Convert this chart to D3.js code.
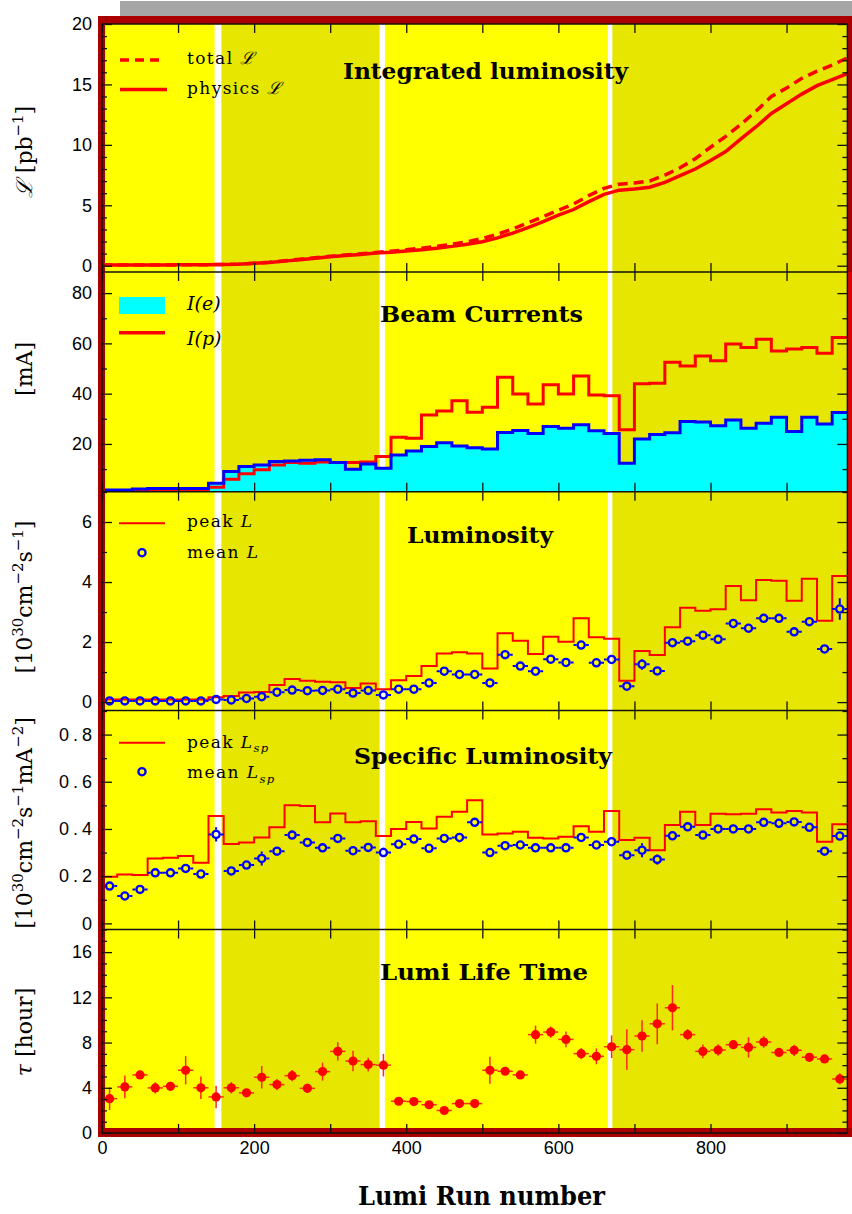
<!DOCTYPE html>
<html>
<head>
<meta charset="utf-8">
<script src="https://cdn.jsdelivr.net/npm/d3@7"></script>
<style>
  body { margin: 0; background: #fff; }
  svg { display: block; }
</style>
</head>
<body>
<div id="lumi_plot"></div>
<script>
// ---------------- data ----------------
// run bins of 20, edges and centres
var binEdges = [0,20,40,60,80,100,120,140,160,180,200,220,240,260,280,300,320,340,360,380,
                400,420,440,460,480,500,520,540,560,580,600,620,640,660,680,700,720,740,760,780,
                800,820,840,860,880,900,920,940,960,980];
var runCentres = [10,30,50,70,90,110,130,150,170,190,210,230,250,270,290,310,330,350,370,390,
                  410,430,450,470,490,510,530,550,570,590,610,630,650,670,690,710,730,750,770,790,
                  810,830,850,870,890,910,930,950,970];

// running periods (background bands)
var bandFrom  = [0, 157, 372, 671];
var bandTo    = [148, 365, 665, 980];
var bandShade = [0, 1, 0, 1];

// integrated luminosity [pb^-1] at the bin edges
var physicsInt = [0.05,0.05,0.05,0.05,0.06,0.07,0.08,0.09,0.1,0.13,
                  0.2,0.27,0.38,0.5,0.62,0.74,0.84,0.93,1.05,1.12,
                  1.22,1.32,1.45,1.6,1.78,1.98,2.3,2.7,3.15,3.65,
                  4.18,4.65,5.3,5.9,6.25,6.35,6.5,6.9,7.45,8.0,
                  8.7,9.45,10.5,11.5,12.6,13.4,14.2,14.9,15.4,15.9];
var totalInt   = [0.05,0.05,0.05,0.05,0.06,0.07,0.08,0.09,0.1,0.14,
                  0.21,0.29,0.41,0.54,0.66,0.78,0.89,0.99,1.1,1.2,
                  1.32,1.45,1.6,1.78,1.98,2.26,2.6,3.05,3.55,4.05,
                  4.59,5.1,5.8,6.4,6.75,6.85,7.0,7.5,8.1,8.85,
                  9.8,10.7,11.7,12.8,14.0,14.7,15.5,16.1,16.6,17.2];

// beam currents [mA]
var currentE = [1.7,1.7,2.1,2.3,2.3,2.3,2.3,4.4,9.0,11.0,11.6,13.0,13.2,13.5,13.7,12.6,9.9,12.0,10.3,15.6,
                17.2,19.0,20.5,19.2,18.5,18.0,24.6,25.3,24.2,26.9,26.2,27.6,25.2,24.2,12.3,22.0,23.8,24.5,28.9,28.7,
                27.2,29.5,26.2,28.2,30.6,24.9,30.6,27.9,32.5];
var currentP = [1.3,1.3,1.3,1.3,1.3,1.3,1.3,2.8,6.0,8.1,9.7,11.6,12.6,12.3,12.8,12.6,12.6,12.8,15.0,22.7,
                22.3,31.5,33.1,37.2,32.6,34.6,46.5,39.9,35.9,43.5,39.9,47.0,39.5,39.2,25.6,43.9,44.1,52.5,51.0,55.0,
                53.1,59.8,58.4,61.6,57.0,57.8,58.4,56.1,62.3];

// luminosity [10^30 cm^-2 s^-1]
var peakL  = [0.09,0.09,0.09,0.09,0.09,0.09,0.09,0.16,0.2,0.32,0.34,0.57,0.77,0.71,0.68,0.66,0.47,0.62,0.43,0.73,
              0.87,1.2,1.62,1.66,1.62,1.12,2.29,2.04,1.6,2.18,2.01,2.79,2.16,2.11,0.71,1.7,1.57,2.49,3.14,3.04,
              3.09,3.87,3.39,4.07,4.04,3.38,4.11,2.71,4.2];
var meanL  = [0.04,0.04,0.04,0.04,0.04,0.04,0.04,0.09,0.07,0.12,0.18,0.33,0.4,0.38,0.39,0.43,0.3,0.39,0.24,0.43,
              0.43,0.64,1.03,0.92,0.92,0.64,1.58,1.2,1.03,1.43,1.32,1.9,1.31,1.42,0.53,1.26,1.04,1.98,2.03,2.23,
              2.09,2.62,2.46,2.79,2.79,2.34,2.68,1.77,3.1];
var meanLErr = [0.02,0.02,0.02,0.02,0.02,0.02,0.02,0.03,0.03,0.03,0.04,0.04,0.04,0.04,0.04,0.05,0.04,0.05,0.04,0.04,
                0.04,0.05,0.05,0.05,0.05,0.05,0.08,0.06,0.06,0.06,0.06,0.08,0.06,0.06,0.1,0.18,0.06,0.06,0.07,0.07,
                0.07,0.09,0.08,0.07,0.07,0.08,0.08,0.08,0.36];

// specific luminosity [10^30 cm^-2 s^-1 mA^-2]
var peakLsp = [0.197,0.207,0.205,0.275,0.278,0.285,0.257,0.455,0.336,0.343,0.364,0.407,0.501,0.497,0.428,0.466,0.428,0.433,0.37,0.4,
               0.43,0.402,0.452,0.473,0.522,0.377,0.381,0.388,0.363,0.36,0.367,0.412,0.388,0.476,0.353,0.363,0.31,0.417,0.473,0.417,
               0.464,0.462,0.464,0.484,0.47,0.476,0.47,0.346,0.42];
var meanLsp = [0.158,0.116,0.144,0.214,0.214,0.233,0.209,0.377,0.222,0.247,0.275,0.306,0.374,0.343,0.32,0.36,0.308,0.322,0.3,0.335,
               0.357,0.318,0.36,0.364,0.428,0.3,0.329,0.332,0.32,0.32,0.32,0.364,0.332,0.346,0.289,0.31,0.271,0.371,0.409,0.374,
               0.4,0.4,0.4,0.428,0.424,0.43,0.407,0.306,0.37];
var meanLspErr = [0.012,0.01,0.01,0.015,0.012,0.012,0.01,0.03,0.01,0.012,0.03,0.012,0.015,0.012,0.01,0.015,0.01,0.012,0.02,0.012,
                  0.012,0.01,0.015,0.02,0.015,0.01,0.012,0.012,0.01,0.01,0.01,0.012,0.01,0.012,0.01,0.03,0.022,0.015,0.015,0.012,
                  0.012,0.012,0.012,0.012,0.012,0.015,0.012,0.012,0.015];

// lumi life time [hour]
var lifeTime = [3.04,4.08,5.14,3.99,4.13,5.55,4.0,3.19,4.0,3.55,4.93,4.28,5.07,3.95,5.43,7.22,6.37,6.05,6.0,2.81,
                2.78,2.5,1.99,2.6,2.6,5.55,5.46,5.14,8.7,8.93,8.28,7.02,6.78,7.63,7.37,8.58,9.66,11.08,8.7,7.22,
                7.34,7.81,7.57,8.05,7.13,7.31,6.69,6.55,4.78];
var lifeTimeErr = [1.0,1.0,0.3,0.5,0.4,1.25,1.0,1.0,0.5,0.3,1.0,0.5,0.5,0.4,0.8,0.8,0.9,0.6,1.0,0.2,
                   0.2,0.2,0.2,0.2,0.2,1.2,0.3,0.2,0.8,0.5,0.7,0.5,0.7,1.0,1.8,1.4,1.8,2.0,0.5,0.6,
                   0.5,0.3,0.9,0.5,0.3,0.5,0.25,0.2,0.5];

var xTickRuns  = [0,100,200,300,400,500,600,700,800,900];
var xLabelRuns = [0,200,400,600,800];
// ---------------------------------------------------------------

var W = 852, H = 1214;
var halfBin = 10;
var serif = "'DejaVu Serif', 'Liberation Serif', serif";
var sans = "'Liberation Sans', Arial, Helvetica, sans-serif";

var svg = d3.select('#lumi_plot').append('svg')
    .attr('width', W)
    .attr('height', H);

var x = d3.scaleLinear().domain([0, 980]).range([102, 847.4]);

var panels = [
  {id: 'p_int',  top: 24,    bottom: 272,   lo: -0.52,  hi: 20,    major: 5,   minor: 1},
  {id: 'p_cur',  top: 272,   bottom: 491.7, lo: 1,      hi: 88.4,  major: 20,  minor: 10},
  {id: 'p_lum',  top: 491.7, bottom: 710.5, lo: -0.28,  hi: 7.01,  major: 2,   minor: 1},
  {id: 'p_spec', top: 710.5, bottom: 929.5, lo: -0.026, hi: 0.902, major: 0.2, minor: 0.1},
  {id: 'p_life', top: 929.5, bottom: 1133,  lo: 0,      hi: 18,    major: 4,   minor: 1}
];
panels.forEach(function(p){
  p.y = d3.scaleLinear().domain([p.lo, p.hi]).range([p.bottom, p.top]);
});

function stepsOf(v){
  var s = [];
  for (var k = 0; k < v.length; k++) s.push([binEdges[k], v[k]]);
  s.push([binEdges[v.length], v[v.length - 1]]);
  return s;
}
function tickList(p, step){
  var out = [];
  for (var v = Math.ceil(p.lo / step - 1e-6) * step; v <= p.hi + 1e-6; v += step) out.push(+v.toFixed(3));
  return out;
}

//gray strip at the top
svg.append('rect')
   .attr('x', 120).attr('y', 1).attr('width', W - 120).attr('height', 15)
   .attr('fill', '#a6a6a6');

//background bands
var bands = svg.append('g').attr('class', 'bands');
bandFrom.forEach(function(b, k){
  bands.append('rect')
       .attr('x', x(b))
       .attr('y', 24)
       .attr('width', x(bandTo[k]) - x(b))
       .attr('height', 1133 - 24)
       .attr('fill', bandShade[k] ? '#e6e600' : '#ffff00');
});

//clip paths
var defs = svg.append('defs');
panels.forEach(function(p){
  defs.append('clipPath').attr('id', 'clip_' + p.id)
      .append('rect')
      .attr('x', x(0)).attr('y', p.top)
      .attr('width', x(980) - x(0)).attr('height', p.bottom - p.top);
});

function panelGroup(k){
  return svg.append('g').attr('clip-path', 'url(#clip_' + panels[k].id + ')');
}

// error bars that stop at the marker edge
function errorBars(g, p, vals, errs, r, colour, w){
  vals.forEach(function(v, k){
    var cx = x(runCentres[k]), cy = p.y(v);
    var xl = x(runCentres[k] - halfBin), xr = x(runCentres[k] + halfBin);
    var yt = p.y(v + errs[k]), yb = p.y(v - errs[k]);
    var segs = [];
    if (cx - r > xl) segs.push([xl, cy, cx - r, cy]);
    if (xr > cx + r) segs.push([cx + r, cy, xr, cy]);
    if (cy - r > yt) segs.push([cx, yt, cx, cy - r]);
    if (yb > cy + r) segs.push([cx, cy + r, cx, yb]);
    segs.forEach(function(s){
      g.append('line')
       .attr('x1', s[0]).attr('y1', s[1]).attr('x2', s[2]).attr('y2', s[3])
       .attr('stroke', colour).attr('stroke-width', w);
    });
  });
}

//panel 1 : integrated luminosity
var p1 = panels[0], g1 = panelGroup(0);
var intLine = d3.line()
    .x(function(d, k){ return x(binEdges[k]); })
    .y(function(d){ return p1.y(d); });
g1.append('path').attr('d', intLine(totalInt))
  .attr('fill', 'none').attr('stroke', '#ff0000').attr('stroke-width', 3.5)
  .attr('stroke-dasharray', '10,6');
g1.append('path').attr('d', intLine(physicsInt))
  .attr('fill', 'none').attr('stroke', '#ff0000').attr('stroke-width', 3.5);

//panel 2 : beam currents
var p2 = panels[1], g2 = panelGroup(1);
var curArea = d3.area()
    .x(function(d){ return x(d[0]); })
    .y0(p2.bottom + 2)
    .y1(function(d){ return p2.y(d[1]); })
    .curve(d3.curveStepAfter);
var stepLine2 = d3.line()
    .x(function(d){ return x(d[0]); })
    .y(function(d){ return p2.y(d[1]); })
    .curve(d3.curveStepAfter);
g2.append('path').attr('d', curArea(stepsOf(currentE))).attr('fill', '#00ffff');
g2.append('path').attr('d', stepLine2(stepsOf(currentP)))
  .attr('fill', 'none').attr('stroke', '#ff0000').attr('stroke-width', 3);
g2.append('path').attr('d', stepLine2(stepsOf(currentE)))
  .attr('fill', 'none').attr('stroke', '#0000ff').attr('stroke-width', 3);

//panel 3 : luminosity
var p3 = panels[2], g3 = panelGroup(2);
var stepLine3 = d3.line()
    .x(function(d){ return x(d[0]); })
    .y(function(d){ return p3.y(d[1]); })
    .curve(d3.curveStepAfter);
g3.append('path').attr('d', stepLine3(stepsOf(peakL)))
  .attr('fill', 'none').attr('stroke', '#ff0000').attr('stroke-width', 2);
errorBars(g3, p3, meanL, meanLErr, 4.6, '#0000ff', 2);
g3.selectAll('.meanL').data(meanL).enter().append('circle')
  .attr('class', 'meanL')
  .attr('cx', function(d, k){ return x(runCentres[k]); })
  .attr('cy', function(d){ return p3.y(d); })
  .attr('r', 3.6)
  .attr('fill', 'none').attr('stroke', '#0000ff').attr('stroke-width', 2.3);

//panel 4 : specific luminosity
var p4 = panels[3], g4 = panelGroup(3);
var stepLine4 = d3.line()
    .x(function(d){ return x(d[0]); })
    .y(function(d){ return p4.y(d[1]); })
    .curve(d3.curveStepAfter);
g4.append('path').attr('d', stepLine4(stepsOf(peakLsp)))
  .attr('fill', 'none').attr('stroke', '#ff0000').attr('stroke-width', 2);
errorBars(g4, p4, meanLsp, meanLspErr, 4.6, '#0000ff', 2);
g4.selectAll('.meanLsp').data(meanLsp).enter().append('circle')
  .attr('class', 'meanLsp')
  .attr('cx', function(d, k){ return x(runCentres[k]); })
  .attr('cy', function(d){ return p4.y(d); })
  .attr('r', 3.6)
  .attr('fill', 'none').attr('stroke', '#0000ff').attr('stroke-width', 2.3);

//panel 5 : life time
var p5 = panels[4], g5 = panelGroup(4);
errorBars(g5, p5, lifeTime, lifeTimeErr, 0, '#ff2a1a', 1.5);
g5.selectAll('.tau').data(lifeTime).enter().append('circle')
  .attr('class', 'tau')
  .attr('cx', function(d, k){ return x(runCentres[k]); })
  .attr('cy', function(d){ return p5.y(d); })
  .attr('r', 4.6)
  .attr('fill', '#ff0000');

//frame
svg.append('path')
   .attr('d', 'M98,16H852V1137H98Z M105,24V1128H847.7V24Z')
   .attr('fill', '#aa0000')
   .attr('fill-rule', 'evenodd');
svg.append('rect')
   .attr('x', 847.4).attr('y', 272).attr('width', 4.6).attr('height', 1128 - 272)
   .attr('fill', '#e00000');

//axes
var axes = svg.append('g').attr('class', 'axes');
panels.forEach(function(p, k){
  var major = tickList(p, p.major);
  var minor = tickList(p, p.minor).filter(function(v){
    return major.every(function(m){ return Math.abs(m - v) > 1e-6; });
  });

  var left = axes.append('g').attr('transform', 'translate(' + x(0) + ',0)')
      .call(d3.axisLeft(p.y).tickValues(major).tickSize(-10).tickPadding(10)
              .tickFormat(function(d){ return String(+d.toFixed(2)); }));
  left.append('g').call(d3.axisLeft(p.y).tickValues(minor).tickSize(-5).tickFormat(''));
  var right = axes.append('g').attr('transform', 'translate(' + x(980) + ',0)')
      .call(d3.axisRight(p.y).tickValues(major).tickSize(-10).tickFormat(''));
  right.append('g').call(d3.axisRight(p.y).tickValues(minor).tickSize(-5).tickFormat(''));

  left.attr('font-family', sans).attr('font-size', 18);
  left.selectAll('text').attr('fill', '#000');
  if (p.major < 1) {
    left.selectAll('text').attr('letter-spacing', 4).attr('dx', 4);
  }

  axes.append('g').attr('transform', 'translate(0,' + p.top + ')')
      .call(d3.axisBottom(x).tickValues(xTickRuns).tickSize(9).tickFormat(''));
  axes.append('g').attr('transform', 'translate(0,' + p.bottom + ')')
      .call(d3.axisTop(x).tickValues(xTickRuns).tickSize(9).tickFormat(''));
});
axes.selectAll('.domain').remove();
axes.selectAll('.tick line').attr('stroke', '#111').attr('stroke-width', 1.3);

var xLab = axes.append('g').attr('transform', 'translate(0,1133)')
    .call(d3.axisBottom(x).tickValues(xLabelRuns).tickSize(0).tickPadding(8));
xLab.select('.domain').remove();
xLab.attr('font-family', sans).attr('font-size', 18);
xLab.selectAll('text').attr('fill', '#000');

//box and panel separators
var edge = svg.append('g').attr('stroke', '#111').attr('stroke-width', 1.5);
edge.append('line').attr('x1', x(0)).attr('x2', x(0)).attr('y1', 24).attr('y2', 1133);
edge.append('line').attr('x1', x(980)).attr('x2', x(980)).attr('y1', 24).attr('y2', 1133);
panels.forEach(function(p){
  edge.append('line').attr('x1', x(0)).attr('x2', x(980)).attr('y1', p.top).attr('y2', p.top);
});
edge.append('line').attr('x1', x(0)).attr('x2', x(980)).attr('y1', 1133).attr('y2', 1133);

//titles
var titles = [
  {t: 'Integrated luminosity', cx: 485.5, y: 79,    w: 285},
  {t: 'Beam Currents',         cx: 481.5, y: 321.5, w: 203},
  {t: 'Luminosity',            cx: 480,   y: 543,   w: 146},
  {t: 'Specific Luminosity',   cx: 483,   y: 764,   w: 258},
  {t: 'Lumi Life Time',        cx: 484,   y: 980,   w: 208},
  {t: 'Lumi Run number',       cx: 481.5, y: 1205,  w: 247}
];
titles.forEach(function(d, k){
  svg.append('text')
     .text(d.t)
     .attr('x', d.cx - d.w / 2).attr('y', d.y)
     .attr('textLength', d.w).attr('lengthAdjust', 'spacingAndGlyphs')
     .attr('font-family', serif).attr('font-weight', 'bold')
     .attr('font-size', k == 5 ? 26 : 23)
     .attr('fill', '#000');
});

// rich text helper: parts = [{t, italic, sup, sub}]
function richText(sel, parts, size){
  var shift = 0;
  parts.forEach(function(pt){
    var ts = sel.append('tspan').text(pt.t);
    var fs = (pt.sup || pt.sub) ? size * 0.68 : size;
    var target = pt.sup ? -size * 0.42 : (pt.sub ? size * 0.28 : 0);
    ts.attr('font-size', fs).attr('dy', target - shift);
    shift = target;
    if (pt.italic) ts.attr('font-style', 'italic');
  });
  return sel;
}

//y titles
var yTitles = [
  {cy: 152,  parts: [{t: 'ℒ', italic: true}, {t: ' [pb'}, {t: '−1', sup: true}, {t: ']'}]},
  {cy: 369,  parts: [{t: '[mA]'}]},
  {cy: 597,  parts: [{t: '[10'}, {t: '30', sup: true}, {t: 'cm'}, {t: '−2', sup: true}, {t: 's'}, {t: '−1', sup: true}, {t: ']'}]},
  {cy: 823,  parts: [{t: '[10'}, {t: '30', sup: true}, {t: 'cm'}, {t: '−2', sup: true}, {t: 's'}, {t: '−1', sup: true},
                     {t: 'mA'}, {t: '−2', sup: true}, {t: ']'}]},
  {cy: 1032, parts: [{t: 'τ', italic: true}, {t: ' [hour]'}]}
];
yTitles.forEach(function(d){
  var t = svg.append('text')
     .attr('transform', 'translate(32,' + d.cy + ') rotate(-90)')
     .attr('text-anchor', 'middle')
     .attr('font-family', serif)
     .attr('fill', '#000');
  richText(t, d.parts, 22);
});

//legends
var lg = svg.append('g').attr('class', 'legends');
function legendText(y, parts){
  var t = lg.append('text')
     .attr('x', 187).attr('y', y)
     .attr('font-family', serif)
     .attr('letter-spacing', 1.4)
     .attr('fill', '#000');
  richText(t, parts, 17);
}
lg.append('line').attr('x1', 120).attr('x2', 165).attr('y1', 60).attr('y2', 60)
  .attr('stroke', '#ff0000').attr('stroke-width', 3.5).attr('stroke-dasharray', '9,6');
legendText(64, [{t: 'total '}, {t: 'ℒ', italic: true}]);
lg.append('line').attr('x1', 120).attr('x2', 167).attr('y1', 89.5).attr('y2', 89.5)
  .attr('stroke', '#ff0000').attr('stroke-width', 3.5);
legendText(94, [{t: 'physics '}, {t: 'ℒ', italic: true}]);

lg.append('rect').attr('x', 119).attr('y', 297).attr('width', 46).attr('height', 17).attr('fill', '#00ffff');
lg.append('line').attr('x1', 119).attr('x2', 165).attr('y1', 332.7).attr('y2', 332.7)
  .attr('stroke', '#ff0000').attr('stroke-width', 3.5);
lg.append('text').text('I(e)').attr('x', 187).attr('y', 309.5)
  .attr('font-family', serif).attr('font-style', 'italic').attr('font-size', 19);
lg.append('text').text('I(p)').attr('x', 187).attr('y', 345)
  .attr('font-family', serif).attr('font-style', 'italic').attr('font-size', 19);

lg.append('line').attr('x1', 119).attr('x2', 165).attr('y1', 523.3).attr('y2', 523.3)
  .attr('stroke', '#ff0000').attr('stroke-width', 2);
legendText(527, [{t: 'peak '}, {t: 'L', italic: true}]);
lg.append('circle').attr('cx', 142).attr('cy', 552.7).attr('r', 3.6)
  .attr('fill', 'none').attr('stroke', '#0000ff').attr('stroke-width', 2.3);
legendText(558, [{t: 'mean '}, {t: 'L', italic: true}]);

lg.append('line').attr('x1', 119).attr('x2', 165).attr('y1', 742.7).attr('y2', 742.7)
  .attr('stroke', '#ff0000').attr('stroke-width', 2);
legendText(747.5, [{t: 'peak '}, {t: 'L', italic: true}, {t: 'sp', italic: true, sub: true}]);
lg.append('circle').attr('cx', 142).attr('cy', 771.7).attr('r', 3.6)
  .attr('fill', 'none').attr('stroke', '#0000ff').attr('stroke-width', 2.3);
legendText(778, [{t: 'mean '}, {t: 'L', italic: true}, {t: 'sp', italic: true, sub: true}]);
</script>
</body>
</html>
